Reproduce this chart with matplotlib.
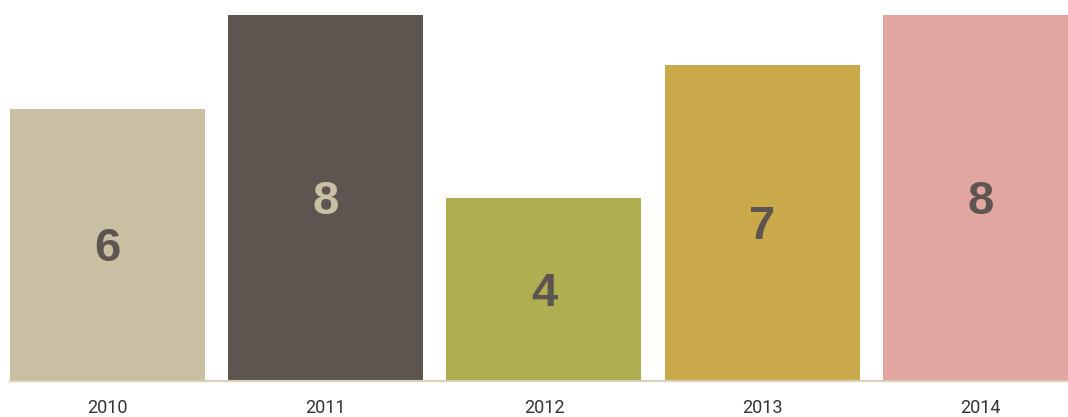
import matplotlib
matplotlib.use("Agg")
import matplotlib.pyplot as plt
from matplotlib.transforms import ScaledTranslation

years = ["2010", "2011", "2012", "2013", "2014"]
values = [5.95, 8, 4, 6.9, 8]
value_labels = ["6", "8", "4", "7", "8"]
bar_colors = ["#c9c0a3", "#5e5550", "#afae51", "#caa94a", "#e0a69f"]
label_colors = ["#5e5550", "#c9c0a3", "#5e5550", "#5e5550", "#5e5550"]

W, H = 1068, 417
fig = plt.figure(figsize=(W / 100, H / 100), dpi=100)
ax = fig.add_axes([10 / W, 36 / H, (W - 10) / W, (H - 36) / H])

x = list(range(len(years)))
ax.bar(x, values, width=0.8935, color=bar_colors, zorder=2)
shift = ax.transData + ScaledTranslation(0, -4 / 100, fig.dpi_scale_trans)
for xi, v, lab, c in zip(x, values, value_labels, label_colors):
    ax.text(xi, v / 2, lab, ha="center", va="center", color=c,
            fontsize=34, fontweight="bold", family="Liberation Sans",
            zorder=3, transform=shift)

ax.set_xlim(-0.4467, 4.401)
ax.set_ylim(0, 8.328)
ax.set_xticks(x)
ax.set_xticklabels(years, family="Roboto", fontsize=13, color="#333333")
ax.tick_params(axis="x", length=0, pad=13)
ax.set_yticks([])
for s in ["top", "left", "right"]:
    ax.spines[s].set_visible(False)
ax.spines["bottom"].set_color("#d9cfb5")
ax.spines["bottom"].set_linewidth(1.5)
ax.spines["bottom"].set_zorder(4)

fig.savefig("out.png", dpi=100)
